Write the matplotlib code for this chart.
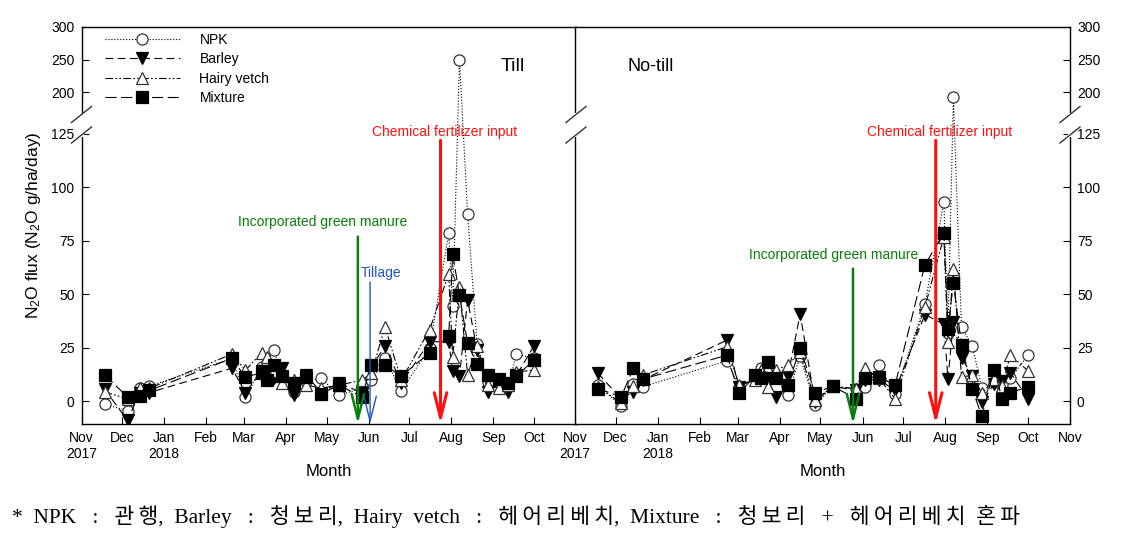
import numpy as np
import pandas as pd
import matplotlib
matplotlib.use('Agg')
import matplotlib.pyplot as plt
from matplotlib.lines import Line2D

plt.rcParams['font.family'] = ['Liberation Sans', 'DejaVu Sans']
plt.rcParams['mathtext.default'] = 'regular'

# sampling dates
till_dates = pd.to_datetime(['2017-11-18', '2017-12-05', '2017-12-14', '2017-12-21', '2018-02-20',
                             '2018-03-02', '2018-03-14', '2018-03-18', '2018-03-23', '2018-03-29',
                             '2018-04-07', '2018-04-16', '2018-04-27', '2018-05-10', '2018-05-27',
                             '2018-06-03', '2018-06-13', '2018-06-25', '2018-07-16', '2018-07-30',
                             '2018-08-02', '2018-08-07', '2018-08-13', '2018-08-20', '2018-08-28',
                             '2018-09-05', '2018-09-12', '2018-09-18', '2018-10-01'])
notill_dates = pd.to_datetime(['2017-11-18', '2017-12-05', '2017-12-14', '2017-12-21', '2018-02-21',
                               '2018-03-02', '2018-03-14', '2018-03-18', '2018-03-23', '2018-03-29',
                               '2018-04-07', '2018-04-16', '2018-04-27', '2018-05-10', '2018-05-27',
                               '2018-06-03', '2018-06-13', '2018-06-25', '2018-07-17', '2018-07-31',
                               '2018-08-03', '2018-08-07', '2018-08-13', '2018-08-21', '2018-08-28',
                               '2018-09-06', '2018-09-12', '2018-09-18', '2018-10-01'])

# Till (N2O g/ha/day)
till_npk = [-1.4, -4.5, 6, 7, 20, 1.9, 16, 18, 24, 12, 4.4, 9.5, 10.6, 2.8, 6, 9.8, 20, 4.8,
            25, 78.5, 44.5, 250, 87.5, 26.7, 9, 9, 7, 22, 20]
till_barley = [5.6, -9, 4, 4, 15.4, 4, 14, 13, 11, 15.4, 2.8, 12, 4, 8.4, 4, 16, 25.7, 8.4,
               27.8, 27.8, 14.2, 11.7, 47.3, 24, 4.4, 8, 4.4, 12, 25.9]
till_vetch = [4.4, 1, 6, 6, 22, 14.5, 22.5, 20.5, 14, 8.4, 9.8, 7.5, 6, 7.5, 9.8, 13, 34.8, 9.8,
              33.5, 59.5, 20.7, 53.2, 12.2, 26, 7.5, 6, 7.5, 13.7, 14.5]
till_mix = [12.2, 2.0, 2.5, 5, 20, 11.2, 13.3, 9.8, 17, 11.7, 8.6, 11.4, 3.5, 7.5, 2.0, 16.9, 16.9, 11.7,
            22.6, 30.4, 68.7, 49.6, 27, 17.2, 12.2, 10.3, 8.3, 11.7, 19.2]

# No-till
notill_npk = [7.5, -2.3, 8, 6.7, 18.9, 6.7, 11, 15.3, 14.8, 12.2, 2.8, 21, -1.9, 7, 5.5, 6.4, 16.9, 3.3,
              45.4, 93.3, 32, 192, 34.5, 25.9, 6, 9, 7.5, 10.6, 21.5]
notill_barley = [13, 1, 4.4, 10, 28.5, 6.7, 11, 11, 11, 1.7, 11.7, 40.7, -0.3, 7, 5, 9.8, 10, 5.1,
                 40.5, 36, 10.5, 37.1, 20.4, 11.7, -0.3, 8, 9.5, 13.3, 1.2]
notill_vetch = [6.5, -0.8, 7, 12.2, 25.4, 7.5, 9.8, 14.5, 6.7, 14.5, 16.9, 23, 0.5, 7, 5.9, 15.3, 10.6, 1.2,
                44, 77, 27.8, 61.7, 11.4, 12, 3.6, 10.2, 7, 21.5, 14.2]
notill_mix = [5.9, 2.0, 15.3, 10.3, 21.5, 3.6, 12.2, 10.6, 18.4, 11, 7.5, 24.7, 3.9, 7, 1.2, 11, 11.4, 7.5,
              63.7, 78.8, 33.7, 55.4, 26.2, 5.5, -7, 14.8, 1.2, 3.9, 6.7]

month_ticks = pd.date_range('2017-11-01', '2018-11-01', freq='MS')
month_labels = ['Nov\n2017', 'Dec', 'Jan\n2018', 'Feb', 'Mar', 'Apr', 'May', 'Jun', 'Jul',
                'Aug', 'Sep', 'Oct', 'Nov']
y_ticks = [0, 25, 50, 75, 100, 125, 200, 250, 300]


# broken y axis: linear below 130, compressed above 170
def fwd(y):
    y = np.asarray(y, dtype=float)
    return np.where(y <= 130, y,
                    np.where(y >= 170, 135.5 + (y - 170) * 0.3043, 130 + (y - 130) * 5.5 / 40))


def inv(v):
    v = np.asarray(v, dtype=float)
    return np.where(v <= 130, v,
                    np.where(v >= 135.5, 170 + (v - 135.5) / 0.3043, 130 + (v - 130) * 40 / 5.5))


fig = plt.figure(figsize=(11.21, 5.39), dpi=100)
W, H = 1121, 539
ax1 = fig.add_axes([81.5 / W, 115 / H, 494.5 / W, 397 / H])
ax2 = fig.add_axes([575 / W, 115 / H, 495 / W, 397 / H])

styles = [
    dict(ls=':', marker='o', mfc='white', mec='#333333', label='NPK'),
    dict(ls=(0, (7, 4)), marker='v', mfc='black', mec='black', label='Barley'),
    dict(ls=(0, (7, 2, 1.5, 2, 1.5, 2)), marker='^', mfc='white', mec='#333333', label='Hairy vetch'),
    dict(ls=(0, (10, 4)), marker='s', mfc='black', mec='black', label='Mixture'),
]

panels = [(ax1, till_dates, [till_npk, till_barley, till_vetch, till_mix]),
          (ax2, notill_dates, [notill_npk, notill_barley, notill_vetch, notill_mix])]

for ax, dts, series in panels:
    for i, (vals, st) in enumerate(zip(series, styles)):
        ax.plot(dts, vals, color='black', lw=0.8, ms=8, mew=0.9, zorder=3 + i, **st)
    ax.set_yscale('function', functions=(fwd, inv))
    ax.set_ylim(-10.7, 300)
    ax.set_xlim(month_ticks[0], month_ticks[-1])
    ax.set_xticks(month_ticks)
    ax.set_yticks(y_ticks)
    ax.set_yticklabels([str(t) for t in y_ticks])
    ax.yaxis.set_minor_locator(matplotlib.ticker.NullLocator())
    ax.tick_params(direction='in', labelsize=10, length=5, width=0.8, pad=5)
    for s in ax.spines.values():
        s.set_linewidth(1.0)
    ax.set_xlabel('Month', fontsize=12, labelpad=2)

ax1.set_xticklabels(month_labels[:-1] + [''])
ax2.set_xticklabels(month_labels)
ax2.yaxis.tick_right()
ax2.tick_params(axis='y', which='both', left=False, labelleft=False, right=True, labelright=True)
ax1.set_ylabel('N$_2$O flux (N$_2$O g/ha/day)', fontsize=12.5, labelpad=6)

ax1.text(0.873, 0.9, 'Till', transform=ax1.transAxes, fontsize=14, ha='center', va='center')
ax2.text(0.152, 0.9, 'No-till', transform=ax2.transAxes, fontsize=13, ha='center', va='center')

ax1.legend(loc='upper left', bbox_to_anchor=(0.0475, 0.985), frameon=False, fontsize=10,
           handlelength=5.4, handletextpad=1.4, labelspacing=0.38, borderpad=0, borderaxespad=0,
           numpoints=1)


def arrow(ax, date, top, color, lw):
    d = pd.Timestamp(date)
    ax.annotate('', xy=(d, -10.7), xytext=(d, top),
                arrowprops=dict(arrowstyle='->,head_length=1.2,head_width=0.3', color=color, lw=lw,
                                shrinkA=0, shrinkB=0, mutation_scale=15), zorder=10)


green = '#0a7d0a'
red = '#ff1010'
blue = '#2255bb'

arrow(ax1, '2018-05-24', 77, green, 1.8)
arrow(ax1, '2018-06-02', 55.7, blue, 1.0)
arrow(ax1, '2018-07-24', 122, red, 2.2)
ax1.text(pd.Timestamp('2018-04-28'), 84, 'Incorporated green manure', color=green, fontsize=10,
         ha='center', va='center')
ax1.text(pd.Timestamp('2018-06-10'), 60, 'Tillage', color=blue, fontsize=10, ha='center', va='center')
ax1.text(pd.Timestamp('2018-07-27'), 126, 'Chemical fertilizer input', color=red, fontsize=10,
         ha='center', va='center')

arrow(ax2, '2018-05-25', 62, green, 1.8)
arrow(ax2, '2018-07-25', 122, red, 2.2)
ax2.text(pd.Timestamp('2018-05-11'), 68.4, 'Incorporated green manure', color=green, fontsize=10,
         ha='center', va='center')
ax2.text(pd.Timestamp('2018-07-28'), 126, 'Chemical fertilizer input', color=red, fontsize=10,
         ha='center', va='center')

# break marks on the spines
for cx in [81.5, 576, 1070]:
    fig.add_artist(Line2D([cx / W, cx / W], [1 - 114.5 / H, 1 - 135 / H], color='white', lw=3, zorder=20))
    for cy in [114.5, 135]:
        fig.add_artist(Line2D([(cx - 10) / W, (cx + 10) / W], [1 - (cy + 8) / H, 1 - (cy - 8) / H],
                              color='#333333', lw=1.0, zorder=21))

note = ('*  NPK   :   관\u2009행,  Barley   :   청\u2009보\u2009리,  Hairy  vetch   :   '
        '헤\u2009어\u2009리\u2009베\u2009치,  Mixture   :   청\u2009보\u2009리   +   '
        '헤\u2009어\u2009리\u2009베\u2009치  혼\u2009파')
fig.text(12 / W, 1 - 516 / H, note,
         family=['Liberation Serif', 'Noto Sans CJK KR'], fontsize=15.5, ha='left', va='center')

fig.savefig('out.png', dpi=100)
